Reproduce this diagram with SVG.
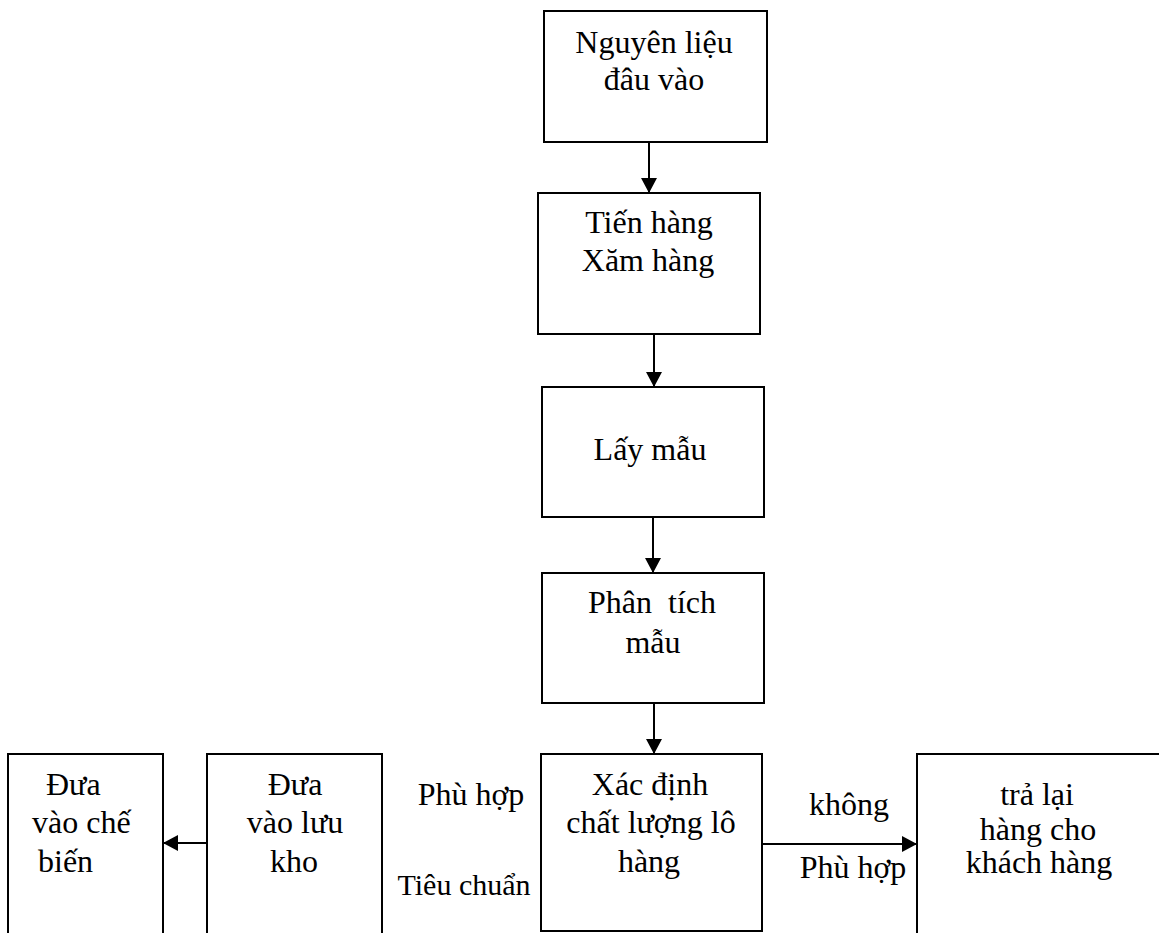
<svg xmlns="http://www.w3.org/2000/svg" width="1159" height="933" viewBox="0 0 1159 933">
<style>
  .box { fill: #fff; stroke: #000; stroke-width: 2; }
  .t { font-family: "Liberation Serif", "Times New Roman", serif; font-size: 32px; fill: #000; text-anchor: middle; white-space: pre; }
  .ts { text-anchor: start; }
  .lbl { font-family: "Liberation Serif", "Times New Roman", serif; font-size: 32px; fill: #000; text-anchor: middle; }
  .conn { stroke: #000; stroke-width: 2; fill: none; marker-end: url(#arr); }
</style>
<defs>
  <marker id="arr" markerUnits="userSpaceOnUse" markerWidth="15" markerHeight="16" viewBox="0 0 15 16" refX="15" refY="8" orient="auto">
    <path d="M0,0 L15,8 L0,16 z" fill="#000"/>
  </marker>
</defs>
<rect width="1159" height="933" fill="#fff"/>

<g id="connectors">
  <line class="conn" x1="649" y1="142" x2="649" y2="193"/>
  <line class="conn" x1="654" y1="334" x2="654" y2="387"/>
  <line class="conn" x1="653" y1="517" x2="653" y2="573"/>
  <line class="conn" x1="654" y1="703" x2="654" y2="754"/>
  <line class="conn" x1="762" y1="844" x2="917" y2="844"/>
  <line class="conn" x1="207" y1="843" x2="163" y2="843"/>
</g>

<g id="n1">
  <rect class="box" x="544" y="11" width="223" height="131"/>
  <text class="t" x="654" y="53">Nguyên liệu</text>
  <text class="t" x="654" y="90">đâu vào</text>
</g>
<g id="n2">
  <rect class="box" x="538" y="193" width="222" height="141"/>
  <text class="t" x="649" y="233">Tiến hàng</text>
  <text class="t" x="648" y="271">Xăm hàng</text>
</g>
<g id="n3">
  <rect class="box" x="542" y="387" width="222" height="130"/>
  <text class="t" x="650" y="460">Lấy mẫu</text>
</g>
<g id="n4">
  <rect class="box" x="542" y="573" width="222" height="130"/>
  <text class="t" x="652" y="613">Phân  tích</text>
  <text class="t" x="653" y="653">mẫu</text>
</g>
<g id="n5">
  <rect class="box" x="541" y="754" width="221" height="177"/>
  <text class="t" x="650" y="795">Xác định</text>
  <text class="t" x="651" y="833">chất lượng lô</text>
  <text class="t" x="649" y="872">hàng</text>
</g>
<g id="n6">
  <rect class="box" x="917" y="754" width="260" height="200"/>
  <text class="t" x="1037" y="805">trả lại</text>
  <text class="t" x="1038" y="840">hàng cho</text>
  <text class="t" x="1039" y="873">khách hàng</text>
</g>
<g id="n7">
  <rect class="box" x="207" y="754" width="175" height="200"/>
  <text class="t" x="295" y="795">Đưa</text>
  <text class="t" x="295" y="833">vào lưu</text>
  <text class="t" x="294" y="872">kho</text>
</g>
<g id="n8">
  <rect class="box" x="8" y="754" width="155" height="200"/>
  <text class="t ts" x="46" y="795">Đưa</text>
  <text class="t ts" x="32" y="833">vào chế</text>
  <text class="t ts" x="38" y="872">biến</text>
</g>

<g id="labels">
  <text class="lbl" x="471" y="805">Phù hợp</text>
  <text class="lbl" x="464" y="895" style="font-size:30px">Tiêu chuẩn</text>
  <text class="lbl" x="849" y="815">không</text>
  <text class="lbl" x="853" y="878">Phù hợp</text>
</g>
</svg>
